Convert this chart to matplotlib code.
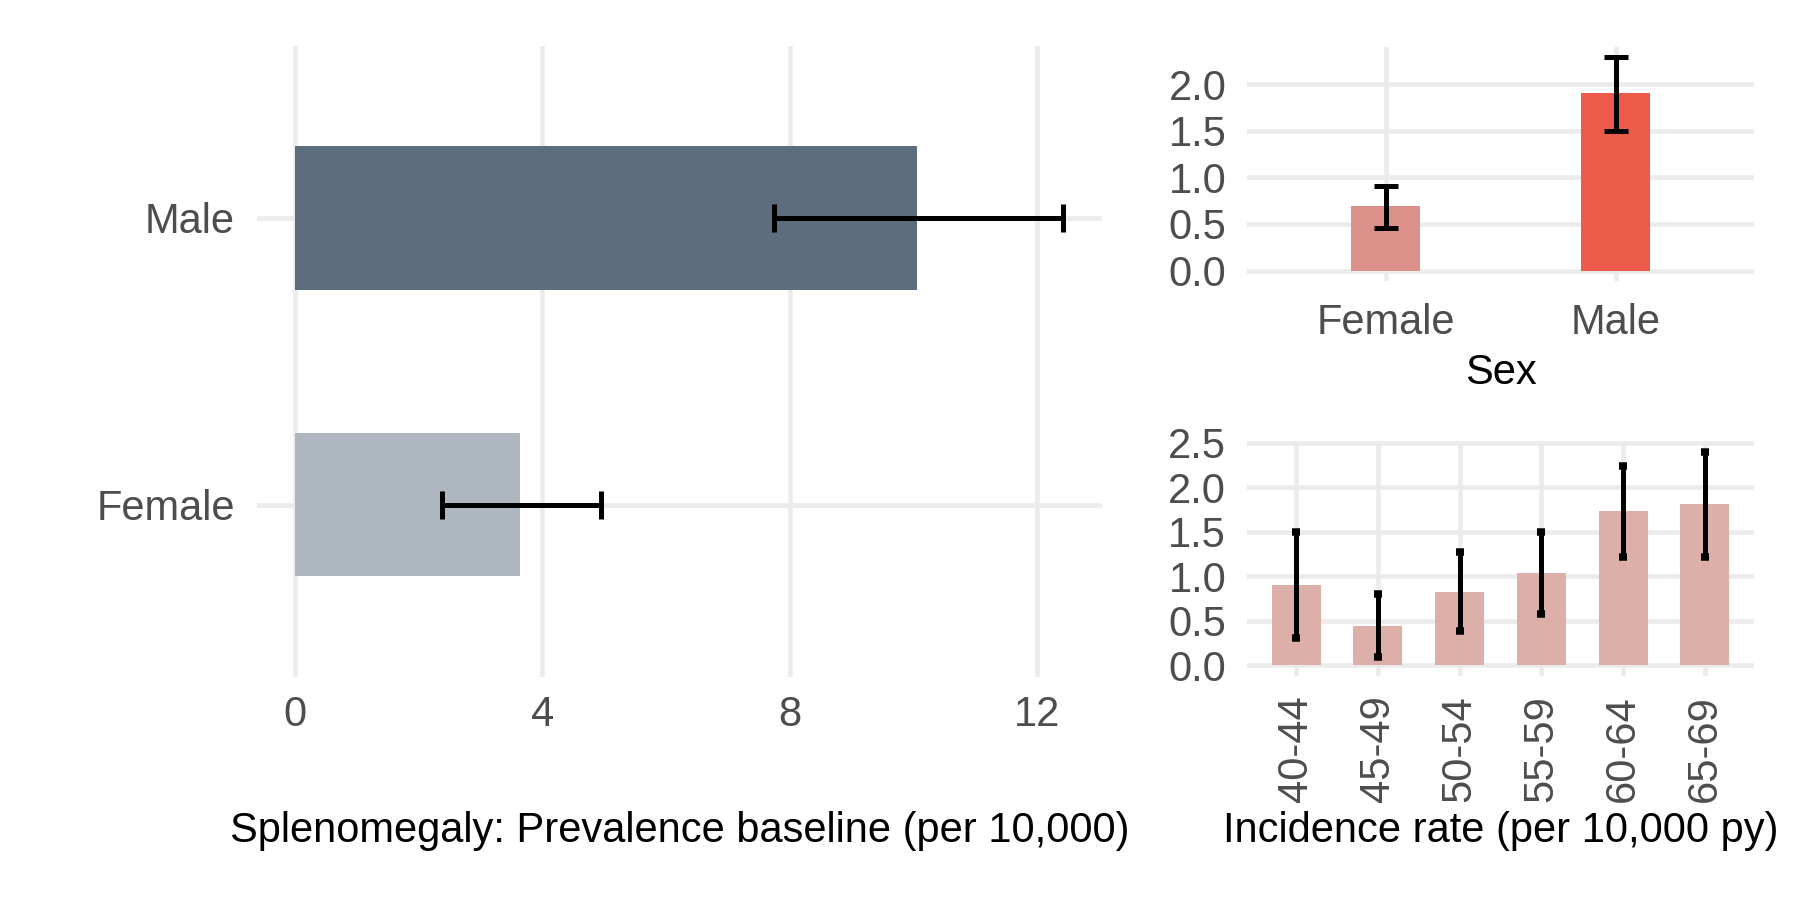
import matplotlib
matplotlib.use('Agg')
import matplotlib.pyplot as plt

plt.rcParams['font.family'] = ['Liberation Sans', 'DejaVu Sans']

# prevalence at baseline (per 10,000)
prev_sex = ['Female', 'Male']
prev_val = [3.64, 10.07]
prev_lo = [2.37, 7.75]
prev_hi = [4.94, 12.43]

# incidence by sex (per 10,000 py)
inc_sex = ['Female', 'Male']
inc_sex_val = [0.69, 1.90]
inc_sex_lo = [0.46, 1.50]
inc_sex_hi = [0.91, 2.29]

# incidence by age group
age_groups = ['40-44', '45-49', '50-54', '55-59', '60-64', '65-69']
inc_age_val = [0.90, 0.44, 0.82, 1.04, 1.73, 1.81]
inc_age_lo = [0.31, 0.09, 0.38, 0.58, 1.22, 1.22]
inc_age_hi = [1.50, 0.80, 1.27, 1.50, 2.24, 2.40]

grid_col = '#EBEBEB'
tick_col = '#4D4D4D'


def style(ax):
    for s in ax.spines.values():
        s.set_visible(False)
    ax.grid(True, color=grid_col, linewidth=1.1)
    ax.set_axisbelow(True)
    ax.tick_params(length=0, labelsize=10, labelcolor=tick_col)


fig = plt.figure(figsize=(6, 3), dpi=300)

# left panel
ax1 = fig.add_axes([0.1428, 0.248, 0.4692, 0.701])
ypos = [1, 2]
ax1.barh(ypos, prev_val, height=0.5, color=['#AEB6BF', '#5D6D7E'])
err_lo = [v - l for v, l in zip(prev_val, prev_lo)]
err_hi = [h - v for v, h in zip(prev_val, prev_hi)]
ax1.errorbar(prev_val, ypos, xerr=[err_lo, err_hi], fmt='none', ecolor='black',
             elinewidth=1.2, capsize=3.3, capthick=1.2)
ax1.set_yticks(ypos)
ax1.set_yticklabels(prev_sex)
ax1.set_xticks([0, 4, 8, 12])
ax1.set_xlim(-0.62, 13.05)
ax1.set_ylim(0.4, 2.6)
style(ax1)
ax1.tick_params(axis='y', pad=5.3)
ax1.tick_params(axis='x', pad=4.3)

# top right panel
ax2 = fig.add_axes([0.693, 0.6875, 0.2815, 0.2605])
xpos = [1, 2]
ax2.bar(xpos, inc_sex_val, width=0.3, color=['#DB918A', '#EC5B4A'])
e_lo = [v - l for v, l in zip(inc_sex_val, inc_sex_lo)]
e_hi = [h - v for v, h in zip(inc_sex_val, inc_sex_hi)]
ax2.errorbar(xpos, inc_sex_val, yerr=[e_lo, e_hi], fmt='none', ecolor='black',
             elinewidth=1.2, capsize=2.8, capthick=1.2)
ax2.set_xticks(xpos)
ax2.set_xticklabels(inc_sex)
ax2.set_yticks([0, 0.5, 1.0, 1.5, 2.0])
ax2.set_yticklabels(['0.0', '0.5', '1.0', '1.5', '2.0'])
ax2.set_xlim(0.4, 2.6)
ax2.set_ylim(-0.115, 2.40)
style(ax2)
ax2.tick_params(axis='y', pad=5.0)
ax2.tick_params(axis='x', pad=5.3)

# bottom right panel
ax3 = fig.add_axes([0.6928, 0.249, 0.2816, 0.261])
apos = list(range(1, len(age_groups) + 1))
ax3.bar(apos, inc_age_val, width=0.6, color='#DCAFA9')
a_lo = [v - l for v, l in zip(inc_age_val, inc_age_lo)]
a_hi = [h - v for v, h in zip(inc_age_val, inc_age_hi)]
ax3.errorbar(apos, inc_age_val, yerr=[a_lo, a_hi], fmt='none', ecolor='black',
             elinewidth=1.2, capsize=1.0, capthick=1.8)
ax3.set_xticks(apos)
ax3.set_xticklabels(age_groups, rotation=90)
ax3.set_yticks([0, 0.5, 1.0, 1.5, 2.0, 2.5])
ax3.set_yticklabels(['0.0', '0.5', '1.0', '1.5', '2.0', '2.5'])
ax3.set_xlim(0.4, len(age_groups) + 0.6)
ax3.set_ylim(-0.12, 2.52)
style(ax3)
ax3.tick_params(axis='y', pad=5.0)
ax3.tick_params(axis='x', pad=4.6)

fig.text(0.8336, 0.5856, 'Sex', ha='center', va='center', fontsize=10)
fig.text(0.3775, 0.077, 'Splenomegaly: Prevalence baseline (per 10,000)',
         ha='center', va='center', fontsize=10)
fig.text(0.8336, 0.077, 'Incidence rate (per 10,000 py)',
         ha='center', va='center', fontsize=10)

fig.savefig('out.png', dpi=300)
